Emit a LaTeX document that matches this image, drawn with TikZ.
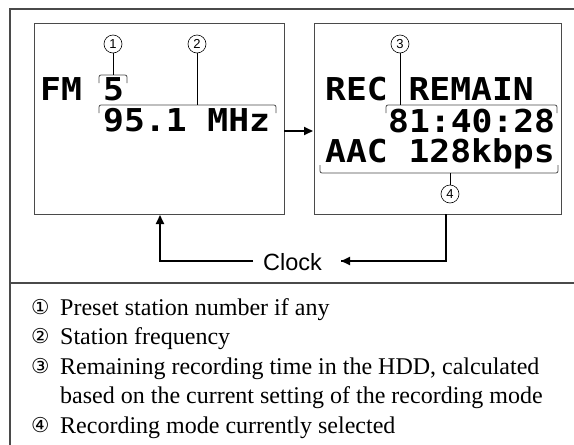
\documentclass[tikz,border=0pt]{standalone}
\usepackage{fontspec}
\setmainfont{Liberation Serif}
\newfontfamily\lcdfont{DejaVu Sans Mono}[FakeStretch=1.1]
\newfontfamily\clockfont{Liberation Sans}
\newfontfamily\dvfont{DejaVu Sans}
\usetikzlibrary{arrows.meta}
\definecolor{framecol}{HTML}{4A4A4A}
\tikzset{
  screenbox/.style={draw=framecol, line width=1.1pt, inner sep=0pt, anchor=north west},
  lcd/.style={inner sep=0pt, anchor=base west, font=\lcdfont\bfseries\fontsize{31.5}{31.5}\selectfont},
  numc/.style={circle, draw, line width=0.6pt, inner sep=0pt, minimum size=18pt, font=\clockfont\fontsize{13}{13}\selectfont},
  thin/.style={line width=0.7pt},
  brk/.style={line width=0.8pt, draw=framecol, rounded corners=2pt},
  bigarrow/.style={line width=2pt, -{Triangle[length=9pt,width=8pt]}},
  listtxt/.style={inner sep=0pt, anchor=base west, font=\fontsize{24}{24}\selectfont},
  listnum/.style={inner sep=0pt, anchor=base west, font=\dvfont\fontsize{20.5}{20.5}\selectfont}
}
\begin{document}
\begin{tikzpicture}[x=1pt,y=-1pt]
\useasboundingbox (0,0) rectangle (574,445);
\fill[white] (0,0) rectangle (574,445);
% outer frame
\draw[framecol, line width=1.4pt] (574,9) -- (10,9) -- (10,445);
\draw[framecol, line width=1.4pt] (10,283) -- (574,283);
% screens
\node[screenbox, minimum width=250pt, minimum height=191pt] (s1) at (34,23) {};
\node[screenbox, minimum width=247pt, minimum height=191pt] (s2) at (314,23) {};
% left screen text
\node[lcd] (fm) at (40,100) {FM};
\node[lcd] (five) at (103,100) {5};
\node[lcd] (freq) at (103,131) {95.1 MHz};
% right screen text
\node[lcd] (rec) at (325,100) {REC REMAIN};
\node[lcd] (time) at (388,132) {81:40:28};
\node[lcd] (mode) at (325,162) {AAC 128kbps};
% labels
\node[numc] (n1) at (113,44) {1};
\node[numc] (n2) at (197,44) {2};
\node[numc] (n3) at (400,44) {3};
\node[numc] (n4) at (450,194) {4};
% brackets
\draw[brk] (99,83) -- (99,75) -- (127,75) -- (127,83);
\draw[brk] (99,113) -- (99,105) -- (276,105) -- (276,113);
\draw[brk] (386,113) -- (386,105) -- (557,105) -- (557,113);
\draw[brk] (320,165) -- (320,173) -- (558,173) -- (558,165);
\coordinate (b1) at (113,75);
\coordinate (b2) at (197,105);
\coordinate (b3) at (400,105);
\coordinate (b4) at (450,173);
\draw[thin] (n1) -- (b1);
\draw[thin] (n2) -- (b2);
\draw[thin] (n3) -- (b3);
\draw[thin] (b4) -- (n4);
% arrow between screens
\coordinate (a1) at (284,131);
\coordinate (a2) at (313,131);
\draw[bigarrow] (a1) -- (a2);
% clock loop
\node[inner sep=0pt, anchor=base west, font=\clockfont\fontsize{23.5}{23.5}\selectfont] (clk) at (263,270) {Clock};
\coordinate (cl) at (253,261);
\coordinate (cu) at (160,215);
\coordinate (cd) at (446,214);
\coordinate (cr) at (341,261);
\draw[line width=2pt] (cd) |- (cr);
\draw[bigarrow] (446,261) -- (cr);
\draw[bigarrow] (cl) -| (cu);
% list
\node[listnum] (l1n) at (31,314) {①};
\node[listtxt] (l1) at (60,315) {Preset station number if any};
\node[listnum] (l2n) at (31,343.5) {②};
\node[listtxt] (l2) at (60,344.5) {Station frequency};
\node[listnum] (l3n) at (31,373) {③};
\node[listtxt] (l3) at (60,374) {Remaining recording time in the HDD, calculated};
\node[listtxt] (l3b) at (60,403.5) {based on the current setting of the recording mode};
\node[listnum] (l4n) at (31,432) {④};
\node[listtxt] (l4) at (60,433) {Recording mode currently selected};
\end{tikzpicture}
\end{document}
